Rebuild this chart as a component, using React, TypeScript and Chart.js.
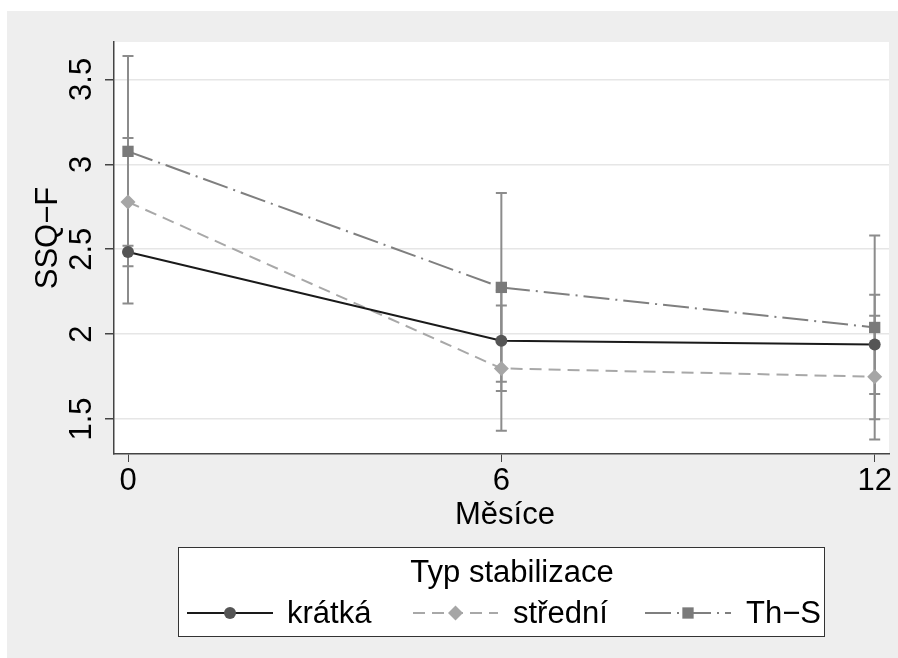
import React, { useEffect, useRef } from "react";
import { Chart, registerables } from "chart.js";

Chart.register(...registerables);

const MONTHS = [0, 6, 12];
const X_TICKS = [0, 6, 12];
const Y_TICKS = [1.5, 2, 2.5, 3, 3.5];
const Y_TICK_LABELS = ["1.5", "2", "2.5", "3", "3.5"];
const X_TICK_LABELS = ["0", "6", "12"];

const SERIES_NAMES = ["krátká", "střední", "Th\u2212S"];

const kratkaMean = [2.484, 1.961, 1.939];
const kratkaLow = [2.18, 1.665, 1.647];
const kratkaHigh = [2.78, 2.257, 2.231];

const stredniMean = [2.778, 1.798, 1.749];
const stredniLow = [2.4, 1.431, 1.38];
const stredniHigh = [3.155, 2.168, 2.108];

const thsMean = [3.076, 2.275, 2.039];
const thsLow = [2.52, 1.72, 1.498];
const thsHigh = [3.637, 2.831, 2.58];

const X_TITLE = "Měsíce";
const Y_TITLE = "SSQ\u2212F";
const LEGEND_TITLE = "Typ stabilizace";

const FONT = '31px "Liberation Sans", Arial, Helvetica, sans-serif';

const ERR_LOW = [kratkaLow, stredniLow, thsLow];
const ERR_HIGH = [kratkaHigh, stredniHigh, thsHigh];

const STYLES = [
  { line: "#1a1a1a", dash: [] as number[], point: "circle", fill: "#555555", r: 6 },
  { line: "#a8a8a8", dash: [12, 7], point: "rectRot", fill: "#a6a6a6", r: 7.5 },
  { line: "#7f7f7f", dash: [26, 6, 2, 6], point: "rect", fill: "#7a7a7a", r: 8 },
];

function drawMarker(ctx: CanvasRenderingContext2D, style: string, x: number, y: number, r: number, fill: string) {
  ctx.save();
  ctx.fillStyle = fill;
  ctx.beginPath();
  if (style === "circle") {
    ctx.arc(x, y, r, 0, Math.PI * 2);
  } else if (style === "rectRot") {
    ctx.moveTo(x - r, y);
    ctx.lineTo(x, y - r);
    ctx.lineTo(x + r, y);
    ctx.lineTo(x, y + r);
    ctx.closePath();
  } else {
    const s = r * Math.SQRT1_2;
    ctx.rect(x - s, y - s, 2 * s, 2 * s);
  }
  ctx.fill();
  ctx.restore();
}

const stataPlugin = {
  id: "stataDecor",
  beforeDraw(chart: any) {
    const ctx = chart.ctx as CanvasRenderingContext2D;
    const a = chart.chartArea;
    ctx.save();
    ctx.fillStyle = "#ffffff";
    ctx.fillRect(0, 0, chart.width, chart.height);
    ctx.fillStyle = "#eeeeee";
    ctx.fillRect(7, 11, chart.width - 7, chart.height - 11);
    ctx.fillStyle = "#ffffff";
    ctx.fillRect(a.left, a.top, a.right - a.left, a.bottom - a.top);
    ctx.restore();
  },
  beforeDatasetsDraw(chart: any) {
    const ctx = chart.ctx as CanvasRenderingContext2D;
    const xs = chart.scales.x;
    const ys = chart.scales.y;
    ctx.save();
    ctx.strokeStyle = "#8c8c8c";
    ctx.lineWidth = 2;
    for (let s = 0; s < ERR_LOW.length; s++) {
      for (let i = 0; i < MONTHS.length; i++) {
        const px = xs.getPixelForValue(MONTHS[i]);
        const lo = ys.getPixelForValue(ERR_LOW[s][i]);
        const hi = ys.getPixelForValue(ERR_HIGH[s][i]);
        ctx.beginPath();
        ctx.moveTo(px, lo);
        ctx.lineTo(px, hi);
        ctx.moveTo(px - 5.5, lo);
        ctx.lineTo(px + 5.5, lo);
        ctx.moveTo(px - 5.5, hi);
        ctx.lineTo(px + 5.5, hi);
        ctx.stroke();
      }
    }
    ctx.restore();
  },
  afterDraw(chart: any) {
    const ctx = chart.ctx as CanvasRenderingContext2D;
    const xs = chart.scales.x;
    const ys = chart.scales.y;
    ctx.save();
    ctx.fillStyle = "#000000";
    ctx.font = FONT;
    ctx.textBaseline = "alphabetic";
    ctx.textAlign = "center";
    // y tick labels (rotated)
    Y_TICKS.forEach((v, i) => {
      const py = ys.getPixelForValue(v);
      ctx.save();
      ctx.translate(91, py);
      ctx.rotate(-Math.PI / 2);
      ctx.fillText(Y_TICK_LABELS[i], 0, 0);
      ctx.restore();
    });
    // x tick labels
    X_TICKS.forEach((v, i) => {
      const px = xs.getPixelForValue(v);
      ctx.fillText(X_TICK_LABELS[i], px, 490);
    });
    // axis titles
    ctx.fillText(X_TITLE, 505, 524);
    ctx.save();
    ctx.translate(56.5, 238);
    ctx.rotate(-Math.PI / 2);
    ctx.fillText(Y_TITLE, 0, 0);
    ctx.restore();

    // legend
    ctx.fillStyle = "#ffffff";
    ctx.fillRect(178, 547, 646, 90);
    ctx.strokeStyle = "#333333";
    ctx.lineWidth = 1;
    ctx.strokeRect(178.5, 547.5, 646, 89);
    ctx.fillStyle = "#000000";
    ctx.textAlign = "center";
    ctx.fillText(LEGEND_TITLE, 512, 582);

    const items = [
      { x0: 187, x1: 273, tx: 287 },
      { x0: 413, x1: 498, tx: 513 },
      { x0: 645, x1: 731, tx: 746 },
    ];
    const ly = 613;
    items.forEach((it, i) => {
      const st = STYLES[i];
      ctx.save();
      ctx.strokeStyle = st.line;
      ctx.lineWidth = 2;
      ctx.setLineDash(st.dash);
      ctx.beginPath();
      ctx.moveTo(it.x0, ly);
      ctx.lineTo(it.x1, ly);
      ctx.stroke();
      ctx.restore();
      drawMarker(ctx, st.point, (it.x0 + it.x1) / 2, ly, st.r, st.fill);
      ctx.fillStyle = "#000000";
      ctx.textAlign = "left";
      ctx.fillText(SERIES_NAMES[i], it.tx, 623);
    });
    ctx.restore();
  },
};

export default function App() {
  const canvasRef = useRef<HTMLCanvasElement | null>(null);

  useEffect(() => {
    if (!canvasRef.current) return;
    const means = [kratkaMean, stredniMean, thsMean];
    const chart = new Chart(canvasRef.current, {
      type: "line",
      data: {
        datasets: means.map((m, s) => ({
          label: SERIES_NAMES[s],
          data: MONTHS.map((x, i) => ({ x, y: m[i] })),
          borderColor: STYLES[s].line,
          borderWidth: 2,
          borderDash: STYLES[s].dash,
          pointStyle: STYLES[s].point as any,
          pointRadius: STYLES[s].r,
          pointHoverRadius: STYLES[s].r,
          pointBackgroundColor: STYLES[s].fill,
          pointBorderColor: STYLES[s].fill,
          pointBorderWidth: 0,
          tension: 0,
          fill: false,
        })),
      },
      options: {
        animation: false,
        responsive: false,
        devicePixelRatio: 1,
        layout: { padding: { left: 0, top: 42, right: 9, bottom: 0 } },
        plugins: {
          legend: { display: false },
          tooltip: { enabled: false },
          title: { display: false },
        },
        scales: {
          x: {
            type: "linear",
            min: -0.225,
            max: 12.23,
            afterBuildTicks: (s: any) => {
              s.ticks = X_TICKS.map((v) => ({ value: v }));
            },
            afterFit: (s: any) => {
              s.height = 204;
            },
            ticks: { display: false },
            grid: {
              drawOnChartArea: false,
              drawTicks: true,
              tickLength: 8,
              tickColor: "#444444",
              lineWidth: 1,
            },
            border: { display: true, color: "#444444", width: 1.5 },
          },
          y: {
            type: "linear",
            min: 1.294,
            max: 3.72,
            afterBuildTicks: (s: any) => {
              s.ticks = Y_TICKS.map((v) => ({ value: v }));
            },
            afterFit: (s: any) => {
              s.width = 114;
            },
            ticks: { display: false },
            grid: {
              drawOnChartArea: true,
              color: "#e6e6e6",
              lineWidth: 1.5,
              drawTicks: true,
              tickLength: 9,
              tickColor: "#444444",
            },
            border: { display: true, color: "#444444", width: 1.5 },
          },
        },
      },
      plugins: [stataPlugin],
    });
    return () => chart.destroy();
  }, []);

  return (
    <div style={{ position: "absolute", left: 0, top: 0, width: 898, height: 658 }}>
      <canvas ref={canvasRef} width={898} height={658} style={{ display: "block" }} />
    </div>
  );
}
